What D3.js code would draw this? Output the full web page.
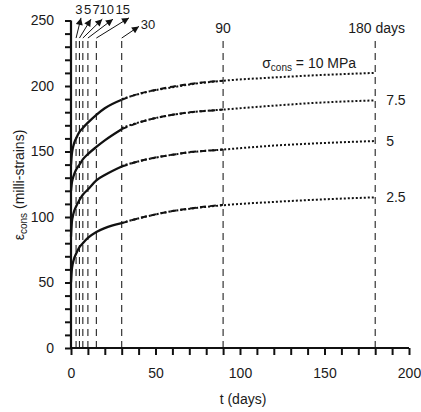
<!DOCTYPE html>
<html>
<head>
<meta charset="utf-8">
<script src="https://cdn.jsdelivr.net/npm/d3@7"></script>
<style>
  body { margin: 0; background: #fff; }
  svg text { font-family: "Liberation Sans", Arial, sans-serif; fill: #1a1a1a; }
</style>
</head>
<body>
<div id="chart"></div>
<script>
var width = 421;
var height = 412;

// measured creep (solid up to 30 days, dashed to 90)
var tMeas = [0, 0.5, 1, 2, 3, 5, 7, 10, 15, 20, 30, 40, 50, 60, 70, 80, 90];
var meas25 = [50, 60, 64, 69, 72, 77, 80, 84, 88.5, 91.5, 95.3, 99, 102, 104.5, 106.5, 108, 109.3];
var meas5 = [85, 96, 100, 105, 108, 113, 117, 121, 128, 132, 138.5, 142.5, 145.5, 147.5, 149.5, 150.5, 151.5];
var meas75 = [120, 126, 129, 133, 136, 140, 144, 148, 153.5, 158.5, 167, 172, 175.5, 178, 180, 181, 182];
var meas10 = [140, 148, 152, 157, 160, 165, 168, 172, 178, 183, 189.5, 194, 197, 199.5, 201.5, 203, 204];

// model prediction (dotted)
var tModel = [30, 45, 60, 75, 90, 120, 150, 180];
var model25 = [95.5, 100.5, 104.5, 107, 109, 111.5, 113.5, 115];
var model5 = [139, 144, 147.5, 150, 151.5, 154.5, 156.5, 158];
var model75 = [168, 174, 178, 180.5, 182, 185, 187.5, 189];
var model10 = [190, 195.5, 199, 202, 204, 206.5, 208.5, 210];

var stressLabels = ["2.5", "5", "7.5", "σcons = 10 MPa"];
var markDays = [3, 5, 7, 10, 15, 30, 90, 180];
var markLabels = ["3", "5", "7", "10", "15", "30", "90", "180 days"];
// where the arrows point to (days, strain)
var arrowTipDay = [5.9, 11.8, 18.5, 24.8, 34.3, 40.2];
var arrowTipVal = [252, 251, 251, 251, 252, 245.5];
var labelDay = [4.6, 9.8, 14.8, 21.2, 30.6, 45.6];

var xTicks = [0, 50, 100, 150, 200];
var yTicks = [0, 50, 100, 150, 200, 250];

var margin = {top: 20.5, right: 12, bottom: 64, left: 71};

var x = d3.scaleLinear().domain([0, 200]).range([margin.left, width - margin.right]);
var y = d3.scaleLinear().domain([0, 250]).range([height - margin.bottom, margin.top]);

var svg = d3.select('#chart')
    .append('svg')
    .attr("width", width)
    .attr("height", height);

svg.append("defs").append("marker")
    .attr("id", "arr")
    .attr("viewBox", "0 0 10 10")
    .attr("refX", 10).attr("refY", 5)
    .attr("markerWidth", 9).attr("markerHeight", 7)
    .attr("markerUnits", "userSpaceOnUse")
    .attr("orient", "auto")
  .append("path")
    .attr("d", "M0,0L10,5L0,10Z")
    .attr("fill", "#111");

/***** Vertical day markers *****/
svg.append("g").selectAll("line")
  .data(markDays)
  .enter().append("line")
    .attr("x1", d => x(d)).attr("x2", d => x(d))
    .attr("y1", y(0))
    .attr("y2", (d, i) => i < 6 ? y(236.6) : y(238))
    .attr("stroke", "#222")
    .attr("stroke-width", 1.1)
    .attr("stroke-dasharray", "7,5");

// arrows from top of markers to labels
svg.append("g").selectAll("line")
  .data(markDays.slice(0, 6))
  .enter().append("line")
    .attr("x1", d => x(d))
    .attr("y1", y(236.6))
    .attr("x2", (d, i) => x(arrowTipDay[i]))
    .attr("y2", (d, i) => y(arrowTipVal[i]))
    .attr("stroke", "#111")
    .attr("stroke-width", 1)
    .attr("marker-end", "url(#arr)");

svg.append("g").selectAll("text")
  .data(markLabels.slice(0, 6))
  .enter().append("text")
    .attr("x", (d, i) => x(labelDay[i]))
    .attr("y", (d, i) => i < 5 ? 13.5 : 28.5)
    .attr("text-anchor", "middle")
    .attr("font-size", 13)
    .text(d => d);

svg.append("text")
  .attr("x", x(90)).attr("y", 33)
  .attr("text-anchor", "middle")
  .attr("font-size", 14)
  .text(markLabels[6]);

svg.append("text")
  .attr("x", x(180) - 27).attr("y", 33)
  .attr("font-size", 14)
  .text(markLabels[7]);

/***** Curves *****/
var line = d3.line()
  .x(d => x(d[0]))
  .y(d => y(d[1]))
  .curve(d3.curveMonotoneX);

var measSeries = [meas25, meas5, meas75, meas10];
var modelSeries = [model25, model5, model75, model10];

var curves = svg.append("g").attr("id", "curves");

modelSeries.forEach(function(vals) {
  curves.append("path")
    .datum(tModel.map((t, i) => [t, vals[i]]))
    .attr("d", line)
    .attr("fill", "none")
    .attr("stroke", "#111")
    .attr("stroke-width", 2)
    .attr("stroke-dasharray", "2,2");
});

measSeries.forEach(function(vals) {
  var pts = tMeas.map((t, i) => [t, vals[i]]);
  curves.append("path")
    .datum(pts.filter(d => d[0] <= 30))
    .attr("d", line)
    .attr("fill", "none")
    .attr("stroke", "#111")
    .attr("stroke-width", 2.3);
  curves.append("path")
    .datum(pts.filter(d => d[0] >= 30))
    .attr("d", line)
    .attr("fill", "none")
    .attr("stroke", "#111")
    .attr("stroke-width", 2)
    .attr("stroke-dasharray", "6,4");
});

// stress labels at the right
var lastModel = modelSeries.map(v => v[v.length - 1]);
svg.append("g").selectAll("text")
  .data(stressLabels.slice(0, 3))
  .enter().append("text")
    .attr("x", x(180) + 11)
    .attr("y", (d, i) => y(lastModel[i]) + 5)
    .attr("font-size", 14)
    .text(d => d);

var sig = svg.append("text")
  .attr("x", x(180) - 113)
  .attr("y", y(lastModel[3]) - 5)
  .attr("font-size", 14);
sig.append("tspan").text("σ");
sig.append("tspan").attr("font-size", 10).attr("dy", 3).text("cons");
sig.append("tspan").attr("dy", -3).text(" = 10 MPa");

/***** Axes *****/
var xAxis = d3.axisBottom(x).ticks(20).tickSize(7).tickPadding(13)
  .tickFormat(d => xTicks.indexOf(d) >= 0 ? d : "");
var xg = svg.append("g")
  .attr("transform", "translate(0," + y(0) + ")")
  .call(xAxis);

var yAxis = d3.axisLeft(y).ticks(25).tickSize(6).tickPadding(11)
  .tickFormat(d => yTicks.indexOf(d) >= 0 ? d : "");
var yg = svg.append("g")
  .attr("transform", "translate(" + x(0) + ",0)")
  .call(yAxis);

[xg, yg].forEach(function(g) {
  g.select(".domain").attr("stroke", "#111").attr("stroke-width", 2.2);
  g.selectAll(".tick line").attr("stroke", "#111").attr("stroke-width", 2);
  g.selectAll(".tick text")
    .attr("font-size", 14)
    .attr("font-family", "Liberation Sans, Arial, sans-serif")
    .attr("fill", "#222");
});
xg.select(".domain").attr("d", "M" + x(0) + ",0H" + x(200));
yg.select(".domain").attr("d", "M0," + y(0) + "V" + y(250));

svg.append("text")
  .attr("x", 243).attr("y", 404)
  .attr("text-anchor", "middle")
  .attr("font-size", 14)
  .text("t (days)");

var yl = svg.append("text")
  .attr("transform", "translate(24,185) rotate(-90)")
  .attr("text-anchor", "middle")
  .attr("font-size", 14);
yl.append("tspan").text("ε");
yl.append("tspan").attr("font-size", 10).attr("dy", 3).text("cons");
yl.append("tspan").attr("dy", -3).text(" (milli-strains)");
</script>
</body>
</html>
